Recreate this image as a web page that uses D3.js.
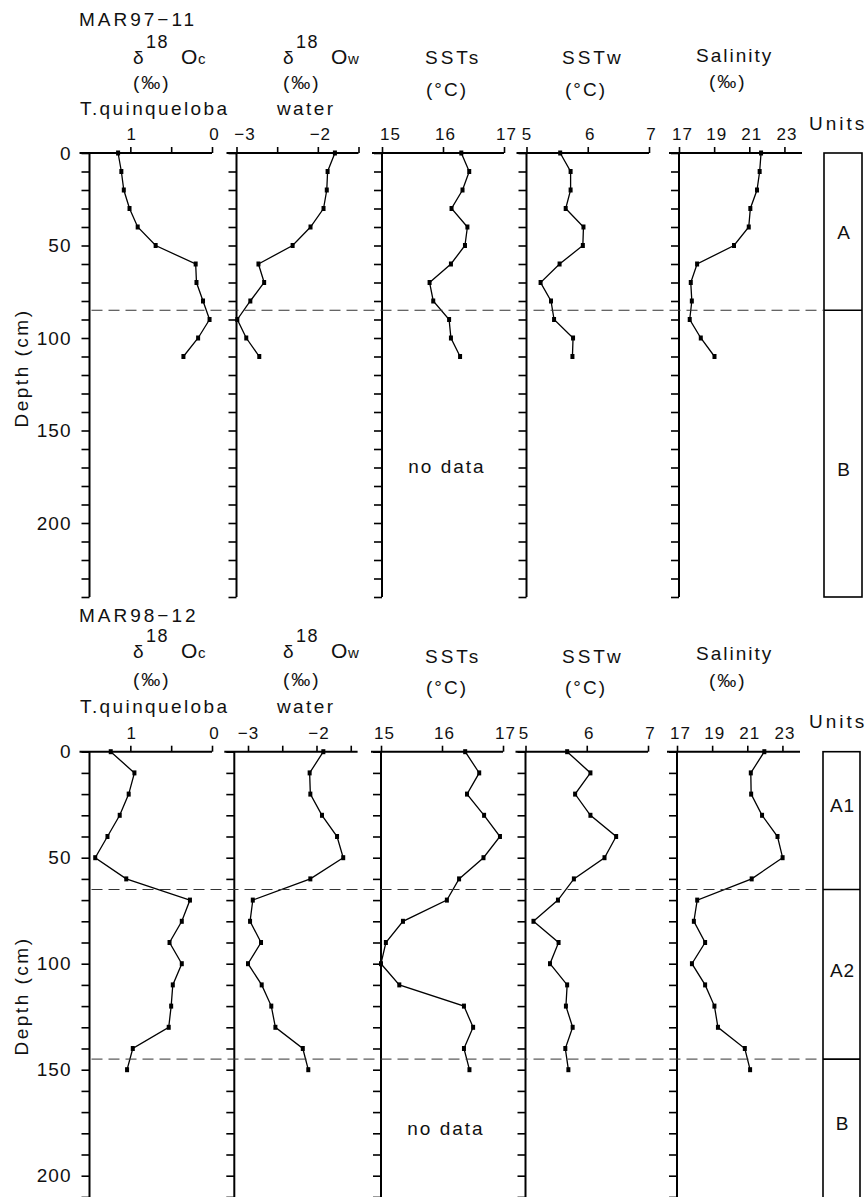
<!DOCTYPE html>
<html><head><meta charset="utf-8">
<script src="https://cdn.jsdelivr.net/npm/d3@7/dist/d3.min.js"></script>
<style>
body{margin:0;background:#fff}
svg text{font-family:"Liberation Sans",Arial,sans-serif;fill:#111}
</style></head>
<body><svg id="c" width="867" height="1197"></svg>
<script>
// ---------------- DATA ----------------
const depth97 = [0,10,20,30,40,50,60,70,80,90,100,110];
const d18Oc97 = [1.15,1.11,1.08,1.01,0.91,0.69,0.20,0.19,0.11,0.03,0.17,0.35];
const d18Ow97 = [-1.79,-1.88,-1.89,-1.93,-2.09,-2.31,-2.73,-2.66,-2.83,-2.99,-2.88,-2.72];
const ssts97  = [16.30,16.43,16.32,16.14,16.40,16.36,16.13,15.78,15.84,16.10,16.13,16.28];
const sstw97  = [5.55,5.72,5.72,5.64,5.93,5.92,5.54,5.23,5.40,5.45,5.76,5.75];
const sal97   = [21.67,21.59,21.44,21.06,20.97,20.13,18.03,17.67,17.73,17.61,18.24,19.02];
const units97 = ["A","B"];
const unitBounds97 = [0,85];
const unitLabelDepth97 = [42.5,171];

const depth98 = [0,10,20,30,40,50,60,70,80,90,100,110,120,130,140,150];
const d18Oc98 = [1.24,0.95,1.02,1.13,1.28,1.43,1.05,0.27,0.37,0.52,0.37,0.48,0.50,0.53,0.97,1.04];
const d18Ow98 = [-1.90,-2.10,-2.09,-1.92,-1.70,-1.61,-2.09,-2.93,-2.97,-2.81,-3.00,-2.80,-2.66,-2.60,-2.20,-2.12];
const ssts98  = [16.38,16.61,16.41,16.69,16.95,16.68,16.28,16.08,15.36,15.08,15.00,15.30,16.36,16.51,16.36,16.45];
const sstw98  = [5.68,6.06,5.81,6.06,6.48,6.29,5.79,5.53,5.13,5.54,5.40,5.68,5.66,5.77,5.65,5.70];
const sal98   = [21.97,21.20,21.22,21.84,22.72,23.01,21.25,18.15,17.96,18.60,17.85,18.60,19.13,19.33,20.86,21.16];
const units98 = ["A1","A2","B"];
const unitBounds98 = [0,65,145];
const unitLabelDepth98 = [25,103,175];

const p1Ticks = [1,0.5,0],         p1Labels = ["1","","0"];
const p2Ticks = [-3,-2.5,-2,-1.5], p2Labels = ["\u22123","","\u22122",""];
const p3Ticks = [15,16,17],        p3Labels = ["15","16","17"];
const p4Ticks = [5,6,7],           p4Labels = ["5","6","7"];
const p5Ticks = [17,19,21,23],     p5Labels = ["17","19","21","23"];
const depthTicks = d3.range(0, 241, 10);
const depthLabelValues = [0,50,100,150,200];
const depthLabels = ["0","50","100","150","200"];

// ---------------- DRAW ----------------
const svg = d3.select("#c");
const DMAX = 240;

function txt(g, x, y, s, size, ls, anchor) {
  return g.append("text").attr("x", x).attr("y", y).attr("font-size", size)
    .attr("letter-spacing", ls || 0).attr("text-anchor", anchor || "start").text(s);
}
function delta(g, xs, yb, sub) {
  txt(g, xs, yb, "\u03b4", 19);
  txt(g, xs + 13, yb - 16, "18", 18, 1.5);
  txt(g, xs + 48, yb, "O", 21);
  txt(g, xs + 65, yb, sub, 15);
}

function drawChart(c) {
  const g = svg.append("g");
  const y = d3.scaleLinear().domain([0, DMAX]).range([c.axisY, c.axisY + DMAX * c.cmPx]);
  const A = c.axisY;
  const h = c.head;

  txt(g, 79, A - h.id, c.id, 19, 3);
  // panel headers
  delta(g, 133, A - h.delta, "c");
  txt(g, 133, A - h.pm, "(\u2030)", 19, 2);
  txt(g, 80, A - h.sp, "T.quinqueloba", 19, 2.4);
  delta(g, 283, A - h.delta, "w");
  txt(g, 283, A - h.pm, "(\u2030)", 19, 2);
  txt(g, 277, A - h.sp, "water", 19, 2.4);
  txt(g, 425, A - h.sst, "SSTs", 19, 3);
  txt(g, 426, A - h.degc, "(\u00b0C)", 19, 2);
  txt(g, 562, A - h.sst, "SSTw", 19, 3);
  txt(g, 565, A - h.degc, "(\u00b0C)", 19, 2);
  txt(g, 696, A - h.sal, "Salinity", 19, 2);
  txt(g, 709, A - h.salpm, "(\u2030)", 19, 2);
  txt(g, 809, A - h.units, "Units", 19, 3);

  c.panels.forEach((p, i) => {
    const x = d3.scaleLinear().domain(p.domain).range(p.range);
    // top axis ticks + labels
    const ax = d3.axisTop(x).tickValues(p.ticks).tickSize(6).tickPadding(7).tickSizeOuter(0)
      .tickFormat(d => p.labels[p.ticks.indexOf(d)]);
    const axG = g.append("g").attr("transform", `translate(0,${A})`).call(ax);
    axG.select(".domain").remove();
    axG.selectAll("line").attr("stroke", "#000").attr("stroke-width", 1.6);
    axG.selectAll("text").attr("font-size", 17).attr("letter-spacing", 1).attr("fill", "#111")
      .attr("font-family", null)
      .attr("dx", (d, j) => (j === 0 ? p.firstDx : 2));
    g.append("line").attr("x1", p.range[0] - 10).attr("x2", p.range[1])
      .attr("y1", A).attr("y2", A).attr("stroke", "#000").attr("stroke-width", 2);

    // left depth axis
    const ay = d3.axisLeft(y).tickValues(depthTicks).tickSize(8).tickPadding(10).tickSizeOuter(0)
      .tickFormat(d => (i === 0 && depthLabelValues.includes(d)) ? depthLabels[depthLabelValues.indexOf(d)] : "");
    const ayG = g.append("g").attr("transform", `translate(${p.range[0]},0)`).call(ay);
    ayG.select(".domain").remove();
    ayG.selectAll("line").attr("stroke", "#000").attr("stroke-width", 1.6);
    ayG.selectAll("text").attr("font-size", 19).attr("letter-spacing", 1).attr("fill", "#111")
      .attr("font-family", null);
    g.append("line").attr("x1", p.range[0]).attr("x2", p.range[0])
      .attr("y1", A).attr("y2", y(DMAX)).attr("stroke", "#000").attr("stroke-width", 2);

    const pts = p.values.map((v, k) => [x(v), y(c.depth[k])]);
    g.append("path").attr("d", d3.line()(pts)).attr("fill", "none")
      .attr("stroke", "#000").attr("stroke-width", 1.3);
    g.selectAll(null).data(pts).enter().append("rect")
      .attr("x", d => d[0] - 2).attr("y", d => d[1] - 2.5)
      .attr("width", 4).attr("height", 5).attr("fill", "#000");
    if (p.noData) {
      txt(g, (p.range[0] + p.range[1]) / 2 + 4, c.noDataY, "no  data", 19, 2, "middle");
    }
  });

  // Depth label
  g.append("text").attr("transform", `translate(28,${c.depthLabelY}) rotate(-90)`)
    .attr("text-anchor", "middle").attr("font-size", 19).attr("letter-spacing", 2.5)
    .text("Depth (cm)");

  // units box
  const bx = c.box;
  g.append("rect").attr("x", bx[0]).attr("y", y(0)).attr("width", bx[1] - bx[0])
    .attr("height", y(DMAX) - y(0)).attr("fill", "none")
    .attr("stroke", "#000").attr("stroke-width", 1.6);
  c.unitBounds.slice(1).forEach(b => {
    g.append("line").attr("x1", bx[0]).attr("x2", bx[1]).attr("y1", y(b)).attr("y2", y(b))
      .attr("stroke", "#000").attr("stroke-width", 1.6);
    g.append("line").attr("x1", c.panels[0].range[0] + 2).attr("x2", bx[0]).attr("y1", y(b)).attr("y2", y(b))
      .attr("stroke", "#333").attr("stroke-width", 1).attr("stroke-dasharray", "11,6");
  });
  c.units.forEach((u, k) => {
    txt(g, (bx[0] + bx[1]) / 2 + 1, y(c.unitLabelDepth[k]) + 7, u, 19, 1, "middle");
  });
}

drawChart({
  id: "MAR97\u221211", axisY: 153, cmPx: 1.85, depth: depth97,
  head: {id: 127, delta: 89, pm: 64, sp: 38, sst: 89, degc: 57, sal: 91, salpm: 65, units: 23},
  noDataY: 473, depthLabelY: 368, box: [824, 862],
  units: units97, unitBounds: unitBounds97, unitLabelDepth: unitLabelDepth97,
  panels: [
    {domain: [1.5, 0], range: [89.5, 212], ticks: p1Ticks, labels: p1Labels, values: d18Oc97, firstDx: 1},
    {domain: [-3, -1.5], range: [236.5, 358.5], ticks: p2Ticks, labels: p2Labels, values: d18Ow97, firstDx: 8},
    {domain: [15, 17], range: [382, 504], ticks: p3Ticks, labels: p3Labels, values: ssts97, firstDx: 8, noData: true},
    {domain: [5, 7], range: [526.5, 649], ticks: p4Ticks, labels: p4Labels, values: sstw97, firstDx: 0},
    {domain: [17, 24], range: [679, 802], ticks: p5Ticks, labels: p5Labels, values: sal97, firstDx: 3}
  ]
});

drawChart({
  id: "MAR98\u221212", axisY: 751.7, cmPx: 2.12, depth: depth98,
  head: {id: 130, delta: 94, pm: 66, sp: 39, sst: 89, degc: 58, sal: 92, salpm: 65, units: 24},
  noDataY: 1135, depthLabelY: 996, box: [823, 860],
  units: units98, unitBounds: unitBounds98, unitLabelDepth: unitLabelDepth98,
  panels: [
    {domain: [1.5, 0], range: [89.5, 212], ticks: p1Ticks, labels: p1Labels, values: d18Oc98, firstDx: 1},
    {domain: [-3.2, -1.4], range: [234.3, 357.6], ticks: p2Ticks, labels: p2Labels, values: d18Ow98, firstDx: 0},
    {domain: [15, 17], range: [381, 503], ticks: p3Ticks, labels: p3Labels, values: ssts98, firstDx: 3, noData: true},
    {domain: [5, 7], range: [525.5, 648], ticks: p4Ticks, labels: p4Labels, values: sstw98, firstDx: -2},
    {domain: [17, 24], range: [677, 800], ticks: p5Ticks, labels: p5Labels, values: sal98, firstDx: 3}
  ]
});
</script>
</body></html>
